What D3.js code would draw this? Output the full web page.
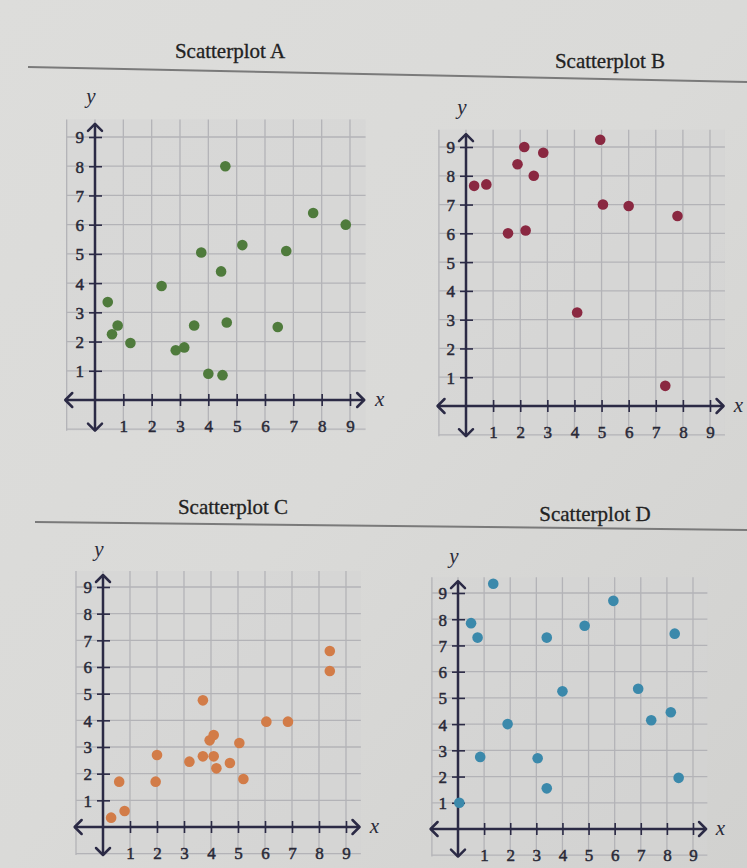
<!DOCTYPE html>
<html>
<head>
<meta charset="utf-8">
<script src="https://cdn.jsdelivr.net/npm/d3@7"></script>
<style>
  html, body { margin: 0; padding: 0; background: #d9d9d7; }
  svg { display: block; }
</style>
</head>
<body>
<svg id="chart" width="747" height="868"></svg>
<script>
// ---------- DATA ----------
const tickValues = [1, 2, 3, 4, 5, 6, 7, 8, 9];
const titles = ["Scatterplot A", "Scatterplot B", "Scatterplot C", "Scatterplot D"];

const aX = [4.6, 0.45, 0.6, 0.8, 1.25, 2.35, 2.85, 3.15, 3.5, 3.75, 4.0, 4.5, 4.45, 4.65, 5.2, 6.45, 6.75, 7.7, 8.85];
const aY = [8.0, 3.35, 2.25, 2.55, 1.95, 3.9, 1.7, 1.8, 2.55, 5.05, 0.9, 0.85, 4.4, 2.65, 5.3, 2.5, 5.1, 6.4, 6.0];

const bX = [0.3, 0.75, 1.55, 1.9, 2.15, 2.2, 2.5, 2.85, 4.1, 4.95, 5.05, 6.0, 7.8, 7.35];
const bY = [7.65, 7.7, 6.0, 8.4, 9.0, 6.1, 8.0, 8.8, 3.25, 9.25, 7.0, 6.95, 6.6, 0.7];

const cX = [0.3, 0.8, 0.6, 1.95, 2.0, 3.2, 3.7, 3.7, 3.95, 4.1, 4.1, 4.2, 4.7, 5.05, 5.2, 6.05, 6.85, 8.4, 8.4];
const cY = [0.35, 0.6, 1.7, 1.7, 2.7, 2.45, 2.65, 4.75, 3.25, 3.45, 2.65, 2.2, 2.4, 3.15, 1.8, 3.95, 3.95, 6.6, 5.85];

const dX = [0.05, 0.5, 0.75, 0.85, 1.35, 1.9, 3.05, 3.4, 3.4, 4.0, 4.85, 5.95, 6.9, 7.4, 8.15, 8.3, 8.45];
const dY = [1.0, 7.85, 7.3, 2.75, 9.35, 4.0, 2.7, 1.55, 7.3, 5.25, 7.75, 8.7, 5.35, 4.15, 4.45, 7.45, 1.95];

const colors = ["#4f7b3c", "#8a2841", "#d27c48", "#3b89ab"];

// ---------- LAYOUT ----------
const panels = [
  { title: titles[0], xs: aX, ys: aY, color: colors[0], xr: [95, 350], yr: [400, 137], tx: 230, ty: 58 },
  { title: titles[1], xs: bX, ys: bY, color: colors[1], xr: [466, 710], yr: [406, 147], tx: 610, ty: 68 },
  { title: titles[2], xs: cX, ys: cY, color: colors[2], xr: [103, 346], yr: [827, 587], tx: 233, ty: 514 },
  { title: titles[3], xs: dX, ys: dY, color: colors[3], xr: [458, 693], yr: [829, 593], tx: 595, ty: 521 }
];

const svg = d3.select("#chart");

// paper background with soft shading
const defs = svg.append("defs");
const grad = defs.append("linearGradient").attr("id", "paper")
  .attr("x1", "0").attr("y1", "0").attr("x2", "1").attr("y2", "1");
grad.append("stop").attr("offset", "0").attr("stop-color", "#dddddb");
grad.append("stop").attr("offset", "0.5").attr("stop-color", "#dadad8");
grad.append("stop").attr("offset", "1").attr("stop-color", "#d1d1cf");
svg.append("rect").attr("width", 747).attr("height", 868).attr("fill", "url(#paper)");

// header rules
svg.append("line").attr("x1", 28).attr("y1", 67).attr("x2", 747).attr("y2", 82)
  .attr("stroke", "#7a7a7a").attr("stroke-width", 2);
svg.append("line").attr("x1", 35).attr("y1", 522).attr("x2", 747).attr("y2", 530)
  .attr("stroke", "#7a7a7a").attr("stroke-width", 2);

const axisColor = "#2b2a45";
const serif = "'Liberation Serif', 'DejaVu Serif', serif";

panels.forEach(p => {
  const x = d3.scaleLinear().domain([0, 9]).range(p.xr);
  const y = d3.scaleLinear().domain([0, 9]).range(p.yr);
  const g = svg.append("g");

  // title
  g.append("text").attr("x", p.tx).attr("y", p.ty)
    .attr("text-anchor", "middle")
    .style("font-family", serif).style("font-size", "21px")
    .attr("fill", "#222").attr("stroke", "#222").attr("stroke-width", 0.3)
    .text(p.title);

  // grid
  const gridVals = d3.range(-1, 10);
  g.append("rect")
    .attr("x", x(-1)).attr("y", y(9.6))
    .attr("width", x(9.55) - x(-1)).attr("height", y(-1.05) - y(9.6))
    .attr("fill", "#d4d4d3").attr("opacity", 0.5);
  g.selectAll(".gv").data(gridVals).enter().append("line")
    .attr("x1", d => x(d)).attr("x2", d => x(d))
    .attr("y1", y(-1.05)).attr("y2", y(9.6))
    .attr("stroke", "#b3b3b7").attr("stroke-width", 1.3);
  g.selectAll(".gh").data(gridVals).enter().append("line")
    .attr("y1", d => y(d)).attr("y2", d => y(d))
    .attr("x1", x(-1)).attr("x2", x(9.55))
    .attr("stroke", "#b3b3b7").attr("stroke-width", 1.3);

  // axes lines
  const x0 = x(0), y0 = y(0);
  const xl = x(-1.05), xrE = x(9.5), yb = y(-1.05), yt = y(9.45);
  g.append("line").attr("x1", xl).attr("x2", xrE).attr("y1", y0).attr("y2", y0)
    .attr("stroke", axisColor).attr("stroke-width", 2.5);
  g.append("line").attr("x1", x0).attr("x2", x0).attr("y1", yb).attr("y2", yt)
    .attr("stroke", axisColor).attr("stroke-width", 2.5);
  // arrow heads (open chevrons)
  const ah = 7;
  const arrows = [
    [[xrE - ah, y0 - ah], [xrE, y0], [xrE - ah, y0 + ah]],
    [[xl + ah, y0 - ah], [xl, y0], [xl + ah, y0 + ah]],
    [[x0 - ah, yt + ah], [x0, yt], [x0 + ah, yt + ah]],
    [[x0 - ah, yb - ah], [x0, yb], [x0 + ah, yb - ah]]
  ];
  g.selectAll(".arr").data(arrows).enter().append("path")
    .attr("d", d => d3.line()(d))
    .attr("fill", "none").attr("stroke", axisColor)
    .attr("stroke-width", 2.5).attr("stroke-linecap", "round").attr("stroke-linejoin", "round");

  // x axis ticks & labels
  const xAxis = d3.axisBottom(x).tickValues(tickValues).tickSize(0).tickPadding(0);
  const xg = g.append("g").attr("transform", `translate(0,${y0})`).call(xAxis);
  xg.select(".domain").remove();
  xg.selectAll(".tick line").attr("y1", -6).attr("y2", 6)
    .attr("stroke", axisColor).attr("stroke-width", 1.6);
  xg.selectAll(".tick text").attr("dy", 0).attr("y", 32)
    .style("font-family", serif).style("font-size", "17px")
    .attr("fill", "#2a2a38").attr("stroke", "#2a2a38").attr("stroke-width", 0.5);

  // y axis ticks & labels
  const yAxis = d3.axisLeft(y).tickValues(tickValues).tickSize(0).tickPadding(0);
  const yg = g.append("g").attr("transform", `translate(${x0},0)`).call(yAxis);
  yg.select(".domain").remove();
  yg.selectAll(".tick line").attr("x1", -6).attr("x2", 7)
    .attr("stroke", axisColor).attr("stroke-width", 1.6);
  yg.selectAll(".tick text").attr("x", -11).attr("dy", "0.35em")
    .style("font-family", serif).style("font-size", "17px")
    .attr("fill", "#2a2a38").attr("stroke", "#2a2a38").attr("stroke-width", 0.5);

  // axis letters
  g.append("text").attr("x", x0 - 4).attr("y", y(10.15))
    .attr("text-anchor", "middle").style("font-family", serif)
    .style("font-style", "italic").style("font-size", "21px").attr("fill", "#2a2a38").text("y");
  g.append("text").attr("x", x(10.05)).attr("y", y0 + 6)
    .attr("text-anchor", "middle").style("font-family", serif)
    .style("font-style", "italic").style("font-size", "21px").attr("fill", "#2a2a38").text("x");

  // points
  const pts = p.xs.map((v, i) => [v, p.ys[i]]);
  g.selectAll(".pt").data(pts).enter().append("circle")
    .attr("cx", d => x(d[0])).attr("cy", d => y(d[1]))
    .attr("r", 5.3).attr("fill", p.color);
});
</script>
</body>
</html>
